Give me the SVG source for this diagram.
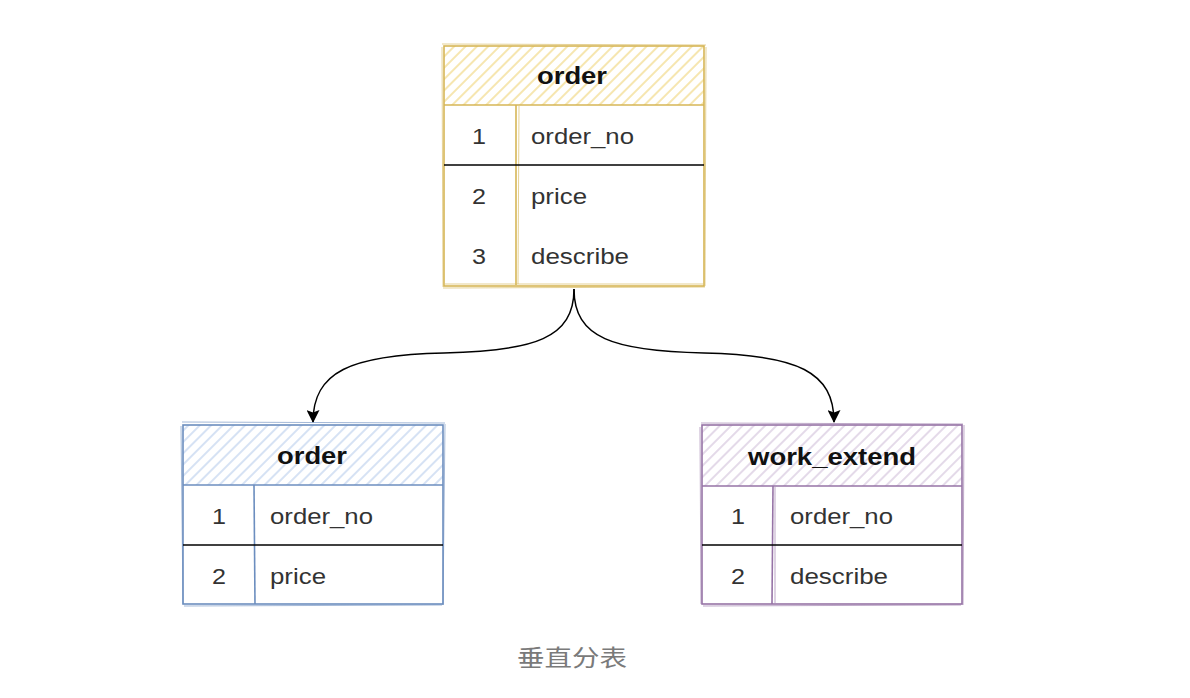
<svg xmlns="http://www.w3.org/2000/svg" width="1190" height="698" viewBox="0 0 1190 698">
  <style>
    .hdr { font-family: "Liberation Sans", Arial, sans-serif; font-weight: bold; font-size: 24px; fill: #111; text-anchor: middle; }
    .num { font-family: "Liberation Sans", Arial, sans-serif; font-size: 22px; fill: #333; text-anchor: middle; }
    .fld { font-family: "Liberation Sans", Arial, sans-serif; font-size: 22px; fill: #333; }
    .cap { font-family: "Liberation Sans", "Noto Sans CJK SC", sans-serif; font-size: 23px; fill: #7a7a7a; text-anchor: middle; }
    .y { stroke: #d6b656; fill: none; stroke-width: 1.6; }
    .b { stroke: #6c8ebf; fill: none; stroke-width: 1.6; }
    .p { stroke: #9673a6; fill: none; stroke-width: 1.6; }
    .thin { stroke-width: 0.9; opacity: 0.7; }
    .sep { stroke: #000; stroke-width: 1.4; }
    .edge { stroke: #000; stroke-width: 1.5; fill: none; marker-end: url(#arrow); }
  </style>
  <defs>
    <pattern id="hy" patternUnits="userSpaceOnUse" width="8" height="8" patternTransform="rotate(45)">
      <rect width="8" height="8" fill="#fff"/>
      <line x1="2" y1="0" x2="2" y2="8" stroke="#f6e6b0" stroke-width="2"/>
    </pattern>
    <pattern id="hb" patternUnits="userSpaceOnUse" width="8" height="8" patternTransform="rotate(45)">
      <rect width="8" height="8" fill="#fff"/>
      <line x1="2" y1="0" x2="2" y2="8" stroke="#d6e2f4" stroke-width="2"/>
    </pattern>
    <pattern id="hp" patternUnits="userSpaceOnUse" width="8" height="8" patternTransform="rotate(45)">
      <rect width="8" height="8" fill="#fff"/>
      <line x1="2" y1="0" x2="2" y2="8" stroke="#e4dae9" stroke-width="2"/>
    </pattern>
    <marker id="arrow" viewBox="0 0 13 13" refX="12" refY="6.5" markerWidth="13" markerHeight="13" markerUnits="userSpaceOnUse" orient="auto">
      <path d="M0,0 L13,6.5 L0,13 L2.5,6.5 Z" fill="#000"/>
    </marker>
  </defs>

  <rect width="1190" height="698" fill="#fff"/>

  <g id="edges">
    <path class="edge" d="M574,289 C574,338 535,351 444,353 C350,355 313,372 313,422"/>
    <path class="edge" d="M574,289 C574,338 613,351 704,353 C798,355 834,372 834,422"/>
  </g>

  <g id="node-order-top">
    <rect x="444" y="46" width="260" height="59" fill="url(#hy)"/>
    <rect x="444" y="105" width="260" height="180" fill="#fff"/>
    <rect class="y" x="444" y="46" width="260" height="240"/>
    <path class="y thin" d="M442,44 L706,45 M445,284 L703,284 M443,288 L705,287 M706,47 L705,286 M442,47 L443,287"/>
    <line class="y" x1="444" y1="105" x2="704" y2="105"/>
    <line class="y" x1="516" y1="105" x2="516" y2="285"/>
    <line class="y thin" x1="519" y1="106" x2="518" y2="284"/>
    <line class="sep" x1="444" y1="165" x2="704" y2="165"/>
    <text class="hdr" x="572" y="84" textLength="70" lengthAdjust="spacingAndGlyphs">order</text>
    <text class="num" x="479" y="144" textLength="14" lengthAdjust="spacingAndGlyphs">1</text>
    <text class="fld" x="531" y="144" textLength="103" lengthAdjust="spacingAndGlyphs">order_no</text>
    <text class="num" x="479" y="204" textLength="14" lengthAdjust="spacingAndGlyphs">2</text>
    <text class="fld" x="531" y="204" textLength="56" lengthAdjust="spacingAndGlyphs">price</text>
    <text class="num" x="479" y="264" textLength="14" lengthAdjust="spacingAndGlyphs">3</text>
    <text class="fld" x="531" y="264" textLength="98" lengthAdjust="spacingAndGlyphs">describe</text>
  </g>

  <g id="node-order-left">
    <rect x="183" y="425" width="260" height="60" fill="url(#hb)"/>
    <rect x="183" y="485" width="260" height="119" fill="#fff"/>
    <rect class="b" x="183" y="425" width="260" height="179"/>
    <path class="b thin" d="M182,422 L445,423 M184,606 L442,605 M181,426 L183,604 M445,424 L443,605"/>
    <line class="b" x1="183" y1="485" x2="443" y2="485"/>
    <line class="b" x1="254" y1="485" x2="255" y2="604"/>
    <line class="sep" x1="183" y1="545" x2="443" y2="545"/>
    <text class="hdr" x="312" y="464" textLength="70" lengthAdjust="spacingAndGlyphs">order</text>
    <text class="num" x="219" y="524" textLength="14" lengthAdjust="spacingAndGlyphs">1</text>
    <text class="fld" x="270" y="524" textLength="103" lengthAdjust="spacingAndGlyphs">order_no</text>
    <text class="num" x="219" y="584" textLength="14" lengthAdjust="spacingAndGlyphs">2</text>
    <text class="fld" x="270" y="584" textLength="56" lengthAdjust="spacingAndGlyphs">price</text>
  </g>

  <g id="node-work-extend">
    <rect x="702" y="425" width="260" height="61" fill="url(#hp)"/>
    <rect x="702" y="486" width="260" height="118" fill="#fff"/>
    <rect class="p" x="702" y="425" width="260" height="179"/>
    <path class="p thin" d="M701,423 L963,424 M703,606 L961,605 M700,427 L701,604 M964,425 L963,605"/>
    <line class="p" x1="702" y1="486" x2="962" y2="486"/>
    <line class="p" x1="773" y1="486" x2="772" y2="604"/>
    <line class="p thin" x1="775" y1="487" x2="775" y2="603"/>
    <line class="sep" x1="702" y1="545" x2="962" y2="545"/>
    <text class="hdr" x="832" y="465" textLength="168" lengthAdjust="spacingAndGlyphs">work_extend</text>
    <text class="num" x="738" y="524" textLength="14" lengthAdjust="spacingAndGlyphs">1</text>
    <text class="fld" x="790" y="524" textLength="103" lengthAdjust="spacingAndGlyphs">order_no</text>
    <text class="num" x="738" y="584" textLength="14" lengthAdjust="spacingAndGlyphs">2</text>
    <text class="fld" x="790" y="584" textLength="98" lengthAdjust="spacingAndGlyphs">describe</text>
  </g>

  <text class="cap" x="572" y="666" textLength="110" lengthAdjust="spacingAndGlyphs">垂直分表</text>
</svg>
